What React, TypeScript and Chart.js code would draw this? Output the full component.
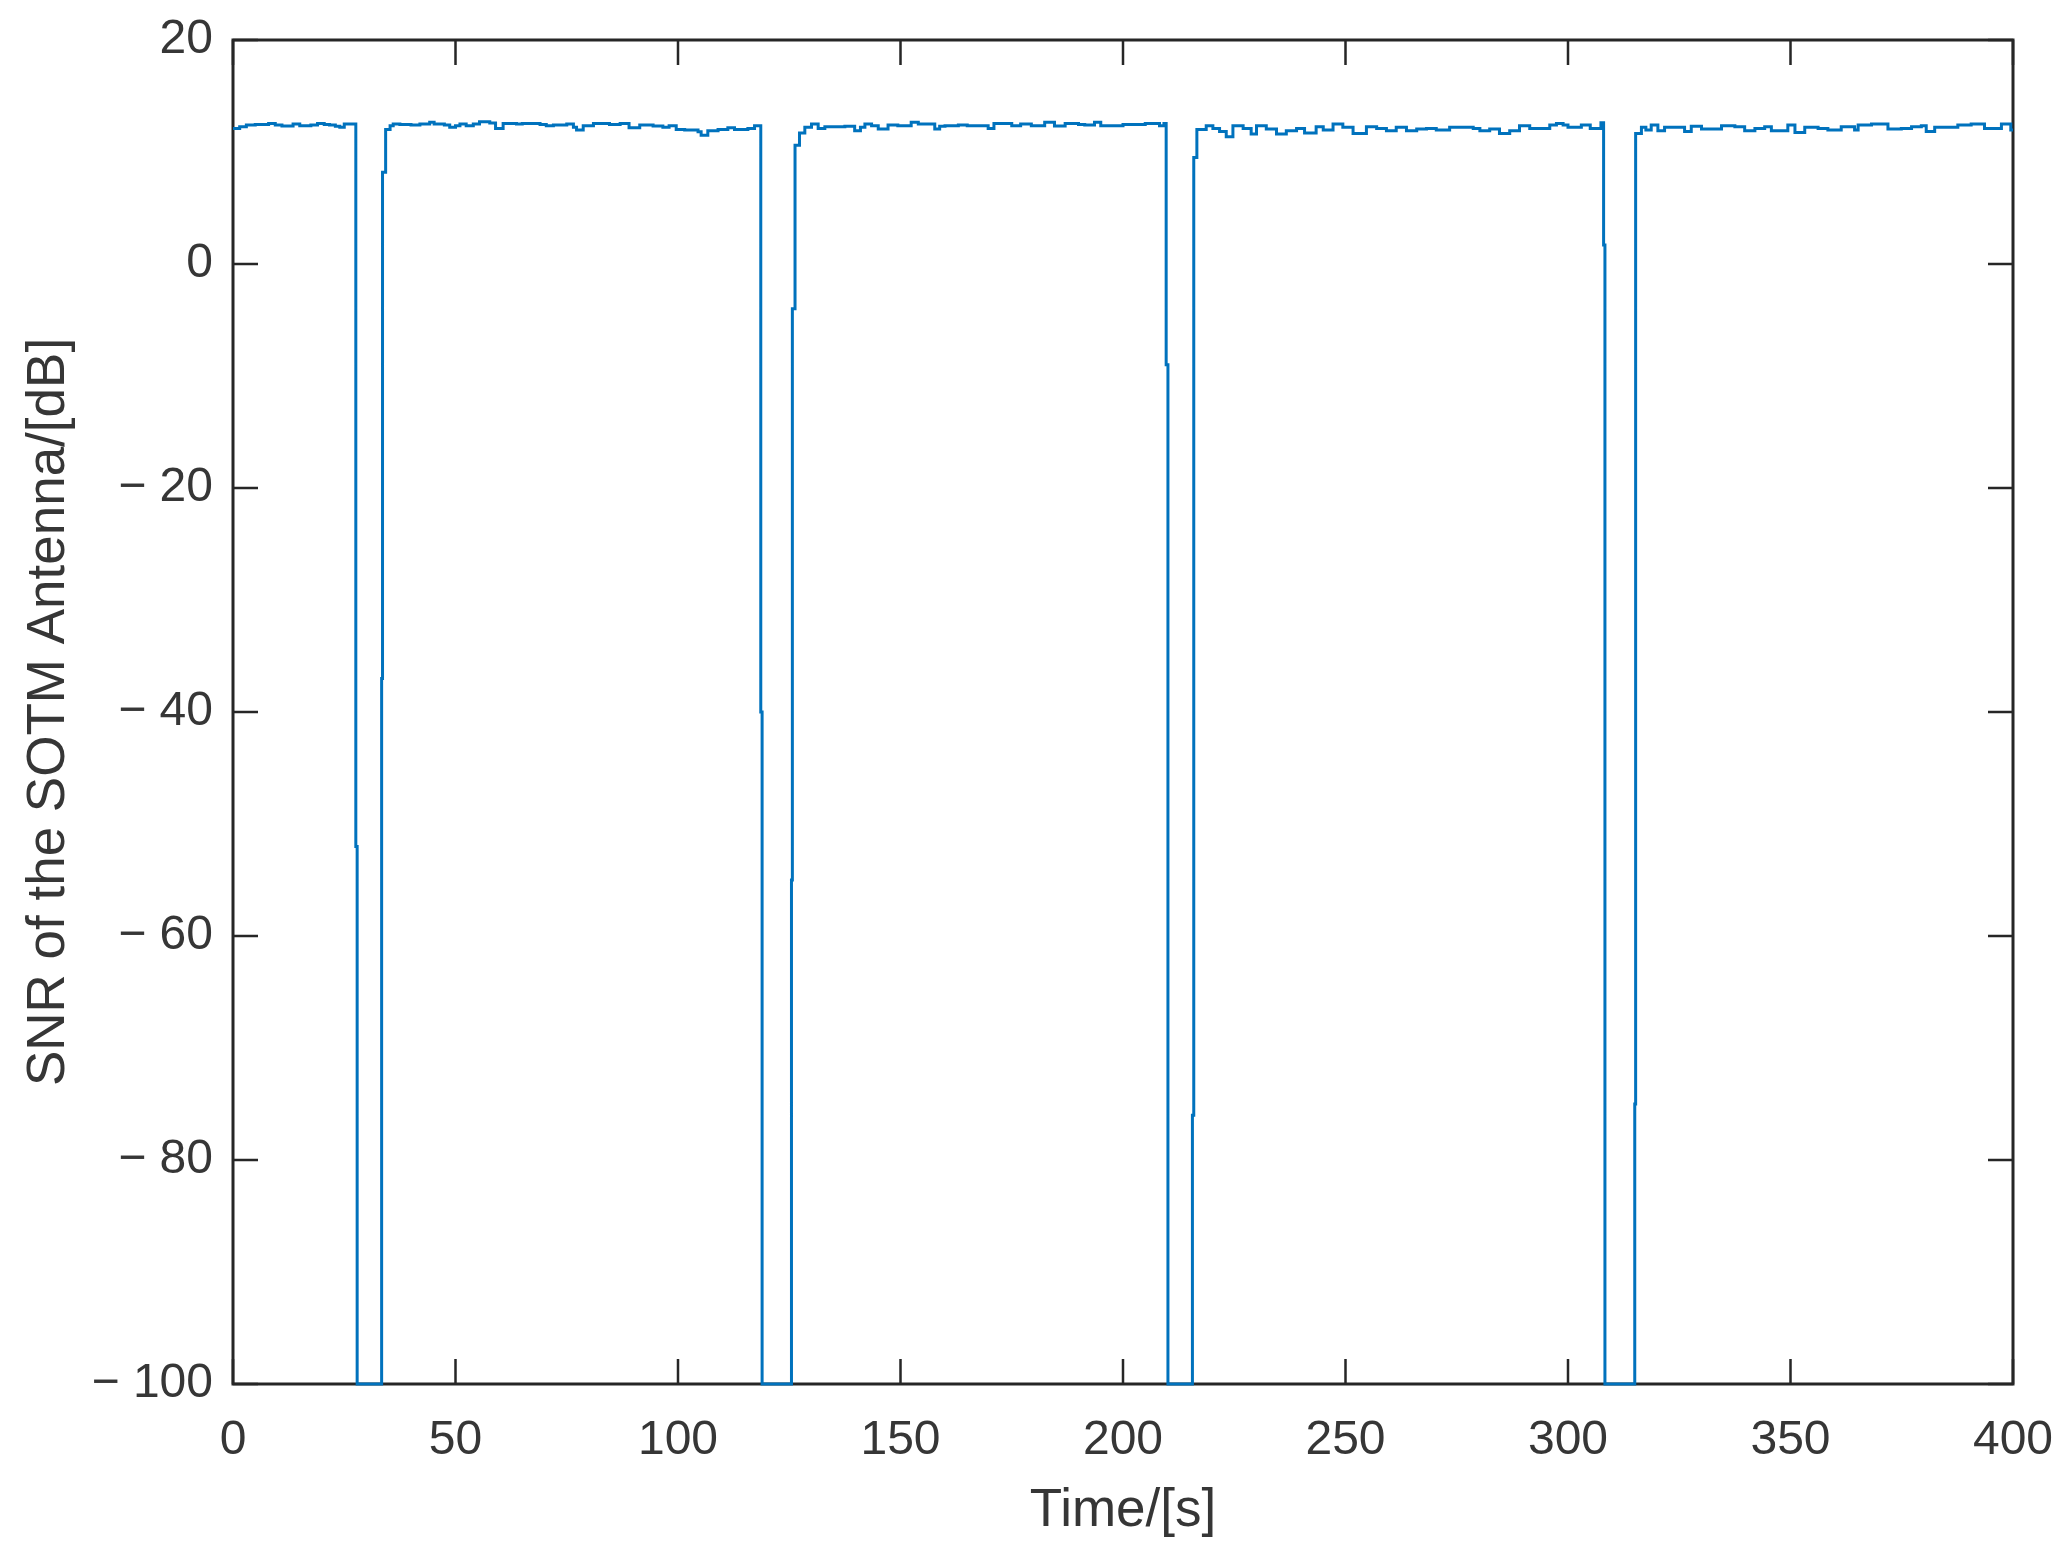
import React, { useEffect, useRef } from "react";
import { Chart, registerables } from "chart.js";

Chart.register(...registerables);

// Time stamps (s) at which the SNR value changes (held until next stamp)
const timeS: number[] = [
  0, 1.5, 3, 5, 8, 9.5, 11, 13.5, 15, 17.5, 19, 20.5, 21.7, 23, 24, 25,
  27.6, 27.9, 33.4, 33.6, 34.3, 35.3, 36, 37.5, 40, 42, 44.2, 45.2, 47.5, 48.7,
  50, 51, 52.4, 54, 55.4, 57.7, 59, 60.7, 63.7, 65, 69, 70.4, 72, 75, 76.5,
  77.2, 78.7, 81, 84.6, 87, 89, 91.4, 94.4, 96.6, 98, 99.6, 101.5, 104.5,
  105.2, 106.7, 109, 111.2, 112.7, 115.7, 117.2,
  118.6, 118.9, 125.5, 125.7, 126.3, 127.3, 128.5, 130, 131.5, 133, 137.5,
  139.7, 141, 142, 143.5, 145, 147.2, 149.4, 152.4, 154, 157.7, 158.8, 160,
  163, 165, 169.7, 171, 175, 177, 179.4, 182.4, 184.6, 187, 190, 191.4, 193.6,
  195, 200, 205, 208.2, 209.2,
  209.7, 210.1, 215.6, 215.9, 216.6, 218.7, 220.2, 221.7, 223.2, 224.7, 227,
  228.8, 230, 232.2, 234.5, 236.7, 239, 240.8, 243.4, 245, 247.2, 249.4,
  251.7, 254.7, 257, 259.2, 261.4, 263.7, 266, 268.2, 270.4, 273.4, 278.7,
  280.2, 282.4, 284.6, 286.9, 289.1, 291.4, 295.9, 297.4, 298.9, 300, 303,
  305, 307.4,
  308.0, 308.3, 315.0, 315.2, 316.5, 317.5, 318.7, 320.2, 321.7, 326.2, 327.7,
  330, 334.5, 337.5, 339.7, 342, 344.2, 345.7, 349.4, 351, 353.2, 356.2,
  358.4, 361.4, 364.4, 365.2, 368.2, 371.9, 374.9, 377.2, 379.4, 380.5,
  382.4, 387.6, 390.6, 393.6, 397.4, 399.5, 400,
];

// SNR values (dB)
const snrDb: number[] = [
  12.1, 12.25, 12.4, 12.45, 12.55, 12.4, 12.32, 12.5, 12.35, 12.4, 12.55, 12.45, 12.4, 12.3, 12.2, 12.5,
  -52, -100, -37, 8.2, 12.0, 12.35, 12.5, 12.45, 12.4, 12.5, 12.65, 12.5, 12.4, 12.2,
  12.35, 12.5, 12.35, 12.5, 12.7, 12.6, 12.1, 12.55, 12.5, 12.55, 12.45, 12.35, 12.4, 12.5, 12.2,
  11.96, 12.35, 12.55, 12.45, 12.55, 12.17, 12.4, 12.32, 12.2, 12.35, 12.0, 11.96, 11.8,
  11.5, 11.9, 12.0, 12.17, 12.0, 12.1, 12.35,
  -40, -100, -55, -4, 10.6, 11.7, 12.2, 12.5, 12.1, 12.26, 12.3,
  11.9, 12.2, 12.5, 12.35, 12.05, 12.4, 12.35, 12.65, 12.5, 12.05, 12.3, 12.35,
  12.4, 12.35, 12.1, 12.55, 12.35, 12.5, 12.35, 12.65, 12.32, 12.55, 12.45, 12.4, 12.65,
  12.35, 12.45, 12.55, 12.35, 12.55,
  -9, -100, -76, 9.5, 12.0, 12.35, 12.1, 11.82, 11.37, 12.35, 12.1,
  11.6, 12.35, 12.05, 11.6, 11.9, 12.1, 11.7, 12.26, 11.96, 12.5, 12.2,
  11.66, 12.26, 12.1, 11.9, 12.2, 11.9, 12.05, 12.1, 11.96, 12.2, 12.1,
  11.9, 12.05, 11.66, 11.9, 12.35, 12.1, 12.4, 12.55, 12.4, 12.2, 12.4,
  12.1, 12.62,
  1.7, -100, -75, 11.66, 12.2, 11.96, 12.4, 11.9, 12.2, 11.82, 12.3,
  12.05, 12.35, 12.26, 11.9, 12.1, 12.26, 11.9, 12.4, 11.73, 12.2, 12.1,
  11.96, 12.26, 11.96, 12.4, 12.5, 12.05, 12.1, 12.26, 12.35, 11.82,
  12.2, 12.4, 12.5, 12.1, 12.5, 11.96, 11.96,
];

const xTickValues: number[] = [0, 50, 100, 150, 200, 250, 300, 350, 400];
const yTickValues: number[] = [-100, -80, -60, -40, -20, 0, 20];

const xTitle = "Time/[s]";
const yTitle = "SNR of the SOTM Antenna/[dB]";

const FONT = "'Liberation Sans', Arial, Helvetica, sans-serif";
const AXIS_COLOR = "#262626";
const TEXT_COLOR = "#363636";
const LINE_COLOR = "#0072BD";

const framePlugin = {
  id: "matlabFrame",
  beforeDatasetsDraw(chart: any) {
    const { ctx, chartArea, scales } = chart;
    const { left, right, top, bottom } = chartArea;
    const xs = scales.x;
    const ys = scales.y;
    const TL = 25;
    ctx.save();
    ctx.strokeStyle = AXIS_COLOR;
    ctx.lineWidth = 2.5;
    ctx.beginPath();
    xs.ticks.forEach((t: any) => {
      const px = xs.getPixelForValue(t.value);
      ctx.moveTo(px, bottom);
      ctx.lineTo(px, bottom - TL);
      ctx.moveTo(px, top);
      ctx.lineTo(px, top + TL);
    });
    ys.ticks.forEach((t: any) => {
      const py = ys.getPixelForValue(t.value);
      ctx.moveTo(left, py);
      ctx.lineTo(left + TL, py);
      ctx.moveTo(right, py);
      ctx.lineTo(right - TL, py);
    });
    ctx.stroke();
    ctx.lineWidth = 3;
    ctx.strokeRect(left, top, right - left, bottom - top);
    ctx.restore();
  },
};

export default function App() {
  const canvasRef = useRef<HTMLCanvasElement | null>(null);

  useEffect(() => {
    const canvas = canvasRef.current;
    if (!canvas) return;
    const points = timeS.map((t, i) => ({ x: t, y: snrDb[i] }));
    const chart = new Chart(canvas, {
      type: "line",
      data: {
        datasets: [
          {
            data: points,
            borderColor: LINE_COLOR,
            borderWidth: 3,
            pointRadius: 0,
            stepped: true,
            tension: 0,
            fill: false,
            clip: 4,
          } as any,
        ],
      },
      plugins: [framePlugin],
      options: {
        animation: false,
        responsive: false,
        devicePixelRatio: 1,
        layout: { padding: { top: 40, right: 52, left: 0, bottom: 0 } },
        plugins: {
          legend: { display: false },
          tooltip: { enabled: false },
        },
        scales: {
          x: {
            type: "linear",
            min: 0,
            max: 400,
            afterBuildTicks: (scale: any) => {
              scale.ticks = xTickValues.map((v) => ({ value: v }));
            },
            afterFit: (scale: any) => {
              scale.height = 169;
              scale.paddingLeft = 0;
              scale.paddingRight = 0;
            },
            grid: { display: false, drawTicks: false },
            border: { display: false },
            ticks: {
              color: TEXT_COLOR,
              font: { family: FONT, size: 48 },
              padding: 28,
              maxRotation: 0,
              autoSkip: false,
              callback: (v: any) => String(v),
            },
            title: {
              display: true,
              text: xTitle,
              color: TEXT_COLOR,
              font: { family: FONT, size: 53 },
              padding: { top: 0, bottom: 10 },
            },
          },
          y: {
            type: "linear",
            min: -100,
            max: 20,
            afterBuildTicks: (scale: any) => {
              scale.ticks = yTickValues.map((v) => ({ value: v }));
            },
            afterFit: (scale: any) => {
              scale.width = 233;
              scale.paddingTop = 0;
              scale.paddingBottom = 0;
            },
            grid: { display: false, drawTicks: false },
            border: { display: false },
            ticks: {
              color: TEXT_COLOR,
              font: { family: FONT, size: 48 },
              padding: 20,
              autoSkip: false,
              callback: (v: any) =>
                Number(v) < 0 ? "\u2212 " + Math.abs(Number(v)) : String(v),
            },
            title: {
              display: true,
              text: yTitle,
              color: TEXT_COLOR,
              font: { family: FONT, size: 53 },
              padding: { top: 18, bottom: 0 },
            },
          },
        },
      } as any,
    });
    return () => chart.destroy();
  }, []);

  return (
    <div
      style={{
        position: "fixed",
        left: 0,
        top: 0,
        width: 2065,
        height: 1553,
        background: "#ffffff",
      }}
    >
      <canvas
        ref={canvasRef}
        width={2065}
        height={1553}
        style={{ width: 2065, height: 1553, display: "block" }}
      />
    </div>
  );
}
